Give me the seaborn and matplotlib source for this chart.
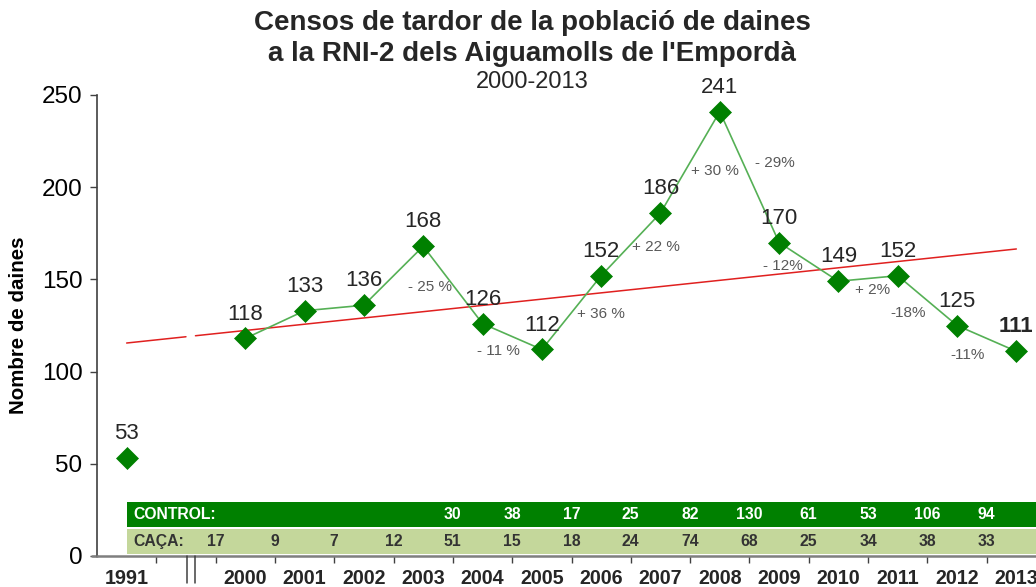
import matplotlib
matplotlib.use("Agg")
import matplotlib.pyplot as plt
import matplotlib.transforms as mtransforms
from matplotlib.patches import Rectangle
import seaborn as sns
import pandas as pd
import numpy as np

# ---------------- data ----------------
years = ['1991', '2000', '2001', '2002', '2003', '2004', '2005', '2006',
         '2007', '2008', '2009', '2010', '2011', '2012', '2013']
counts = [53, 118, 133, 136, 168, 126, 112, 152, 186, 241, 170, 149, 152, 125, 111]
pct_labels = ['- 25 %', '- 11 %', '+ 36 %', '+ 22 %', '+ 30 %', '- 29%',
              '- 12%', '+ 2%', '-18%', '-11%']
trend_ends = [115.5, 166.5]          # linear trend at 1991 and 2013
control = ['', '', '', '', '30', '38', '17', '25', '82', '130', '61', '53', '106', '94']
caca = ['17', '9', '7', '12', '51', '15', '18', '24', '74', '68', '25', '34', '38', '33']

# ---------------- layout ----------------
slots = [0] + list(range(2, 16))     # category slots, slot 1 is the axis break
pct_pos = [(5.11, 146), (6.27, 111), (7.99, 131), (8.92, 167.5), (9.92, 209),
           (10.93, 213), (11.06, 157), (12.58, 144), (13.17, 132), (14.18, 109)]

sns.set_theme(style="ticks")
plt.rcParams['font.family'] = ['Liberation Sans', 'DejaVu Sans']

W, H = 1036, 587
fig = plt.figure(figsize=(W / 100, H / 100), dpi=100)
left_px, right_px = 97, 1046
bot_px, top_px = 556, 95
ax = fig.add_axes([left_px / W, (H - bot_px) / H, (right_px - left_px) / W, (bot_px - top_px) / H])
ax.set_xlim(-0.5, 15.5)
ax.set_ylim(0, 250)

df = pd.DataFrame({'slot': slots, 'count': counts, 'year': years})
main = df.iloc[1:]

# table bands
ax.add_patch(Rectangle((0, 15.7), 15.6, 13.6, facecolor='#008000', edgecolor='none', zorder=1, clip_on=False))
ax.add_patch(Rectangle((0, 1.1), 15.6, 13.5, facecolor='#c4d79b', edgecolor='none', zorder=1, clip_on=False))
ax.text(0.12, 22.5, 'CONTROL:', color='white', fontsize=11.3, fontweight='bold', va='center', ha='left', zorder=3)
ax.text(0.12, 7.9, 'CAÇA:', color='#333333', fontsize=11.3, fontweight='bold', va='center', ha='left', zorder=3)
for i, (c, h) in enumerate(zip(control, caca)):
    x = 1.5 + i
    if c:
        ax.text(x, 22.5, c, color='white', fontsize=11.3, fontweight='bold', va='center', ha='center', zorder=3)
    ax.text(x, 7.9, h, color='#333333', fontsize=11.3, fontweight='bold', va='center', ha='center', zorder=3)

# trend line (broken at the axis break)
slope = (trend_ends[1] - trend_ends[0]) / 15.0
for x0, x1 in [(0, 1.0), (1.16, 15)]:
    ax.plot([x0, x1], [trend_ends[0] + slope * x0, trend_ends[0] + slope * x1],
            color='#e0201f', lw=1.1, zorder=2)

# series
sns.lineplot(data=main, x='slot', y='count', color='#55b055', lw=1.2, ax=ax, zorder=3, legend=False)
sns.scatterplot(data=df, x='slot', y='count', marker='D', s=125, color='#008000',
                edgecolor='#008000', linewidth=0.5, ax=ax, zorder=4, legend=False)

# value labels
for i, (x, v) in enumerate(zip(slots, counts)):
    bold = (i == len(counts) - 1)
    ax.annotate(str(v), (x, v), xytext=(0, 10), textcoords='offset points',
                ha='center', va='bottom', fontsize=16, color='#262626',
                fontweight='bold' if bold else 'normal', zorder=5)

# percentage labels
for lab, (x, y) in zip(pct_labels, pct_pos):
    ax.text(x, y, lab, fontsize=11, color='#595959', ha='center', va='center', zorder=5)

# axes styling
ax.set_xlabel('')
ax.set_ylabel('Nombre de daines', fontsize=14.8, fontweight='bold', color='black')
ax.yaxis.set_label_coords(-(left_px - 28) / (right_px - left_px), 0.5)
ax.set_yticks([0, 50, 100, 150, 200, 250])
ax.tick_params(axis='y', labelsize=17.5, length=5, width=1, color='#404040', labelcolor='black', pad=5.5)
ax.set_xticks([i + 0.5 for i in range(15)])
ax.set_xticklabels([''] * 15)
ax.set_xticks(slots, minor=True)
ax.set_xticklabels(years, minor=True, fontsize=14.2, fontweight='bold')
ax.tick_params(axis='x', which='major', length=5, width=1, color='#404040')
ax.tick_params(axis='x', which='minor', length=0, pad=9)
sns.despine(ax=ax, top=True, right=True)
ax.spines['left'].set_color('#404040')
ax.spines['left'].set_linewidth(1.2)
ax.spines['bottom'].set_color('#7f7f7f')
ax.spines['bottom'].set_linewidth(1.8)

# axis break marks and left stub of the x axis
trans = mtransforms.blended_transform_factory(ax.transData, fig.transFigure)
for xb in (1.01, 1.15):
    ax.plot([xb, xb], [(H - bot_px) / H, (H - 583) / H], transform=trans,
            color='#404040', lw=1.1, clip_on=False, zorder=6)
ax.plot([-0.58, -0.5], [(H - bot_px) / H] * 2, transform=trans, color='#7f7f7f', lw=1.8, clip_on=False)

# titles
fig.text(532 / W, 1 - 23 / H, 'Censos de tardor de la població de daines', ha='center', va='center',
         fontsize=20, fontweight='bold')
fig.text(532 / W, 1 - 54 / H, "a la RNI-2 dels Aiguamolls de l'Empordà", ha='center', va='center',
         fontsize=20, fontweight='bold')
fig.text(532 / W, 1 - 82 / H, '2000-2013', ha='center', va='center', fontsize=17)

fig.savefig('out.png', dpi=100)
